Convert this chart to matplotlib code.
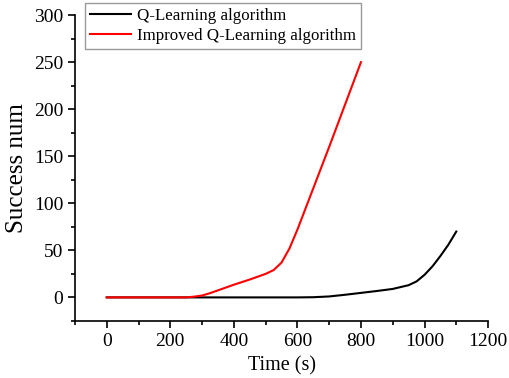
import numpy as np
import matplotlib.pyplot as plt
from matplotlib.ticker import MultipleLocator

plt.rcParams['font.family'] = ['Liberation Serif', 'DejaVu Serif']

# Datos
t_q = [0, 100, 200, 300, 400, 500, 600, 650, 700, 750, 800, 850, 900, 950, 975, 1000, 1025, 1050, 1075, 1100]
n_q = [0, 0, 0, 0, 0, 0, 0, 0.2, 1, 2.8, 4.8, 6.8, 9, 13, 17, 24, 33, 44, 56, 70]

t_imp = [0, 100, 200, 250, 275, 300, 325, 350, 375, 400, 450, 500, 525, 550, 575, 600, 650, 700, 750, 800]
n_imp = [0, 0, 0, 0, 0.8, 2, 4.5, 7.5, 10.5, 13.5, 19, 25, 29, 37, 52, 72, 116, 160, 205, 250]

fig = plt.figure(figsize=(5.1, 3.78), dpi=100)
ax = fig.add_axes([0.147, 0.151, 0.810, 0.809])

ax.plot(t_q, n_q, color='black', linewidth=1.5, label='Q-Learning algorithm')
ax.plot(t_imp, n_imp, color='red', linewidth=1.5, label='Improved Q-Learning algorithm')

ax.set_xlim(-100, 1200)
ax.set_ylim(-25, 300)
ax.xaxis.set_major_locator(MultipleLocator(200))
ax.xaxis.set_minor_locator(MultipleLocator(100))
ax.yaxis.set_major_locator(MultipleLocator(50))
ax.yaxis.set_minor_locator(MultipleLocator(25))

for s in ['top', 'right']:
    ax.spines[s].set_visible(False)
for s in ['left', 'bottom']:
    ax.spines[s].set_linewidth(1.2)

ax.tick_params(which='major', direction='out', length=5, width=1.2, labelsize=14)
ax.tick_params(which='minor', direction='out', length=3, width=1.2)

ax.set_xlabel('Time (s)', fontsize=14.5, labelpad=5)
ax.set_ylabel('Success num', fontsize=18, labelpad=4)

leg = ax.legend(loc='upper left', bbox_to_anchor=(0.167, 0.992), bbox_transform=fig.transFigure,
                fontsize=12.2, frameon=True, fancybox=False, edgecolor='gray',
                borderpad=0.3, labelspacing=0.25, handlelength=2.4, handletextpad=0.35,
                borderaxespad=0)
leg.get_frame().set_linewidth(1.0)

fig.savefig('out.png', dpi=100)
